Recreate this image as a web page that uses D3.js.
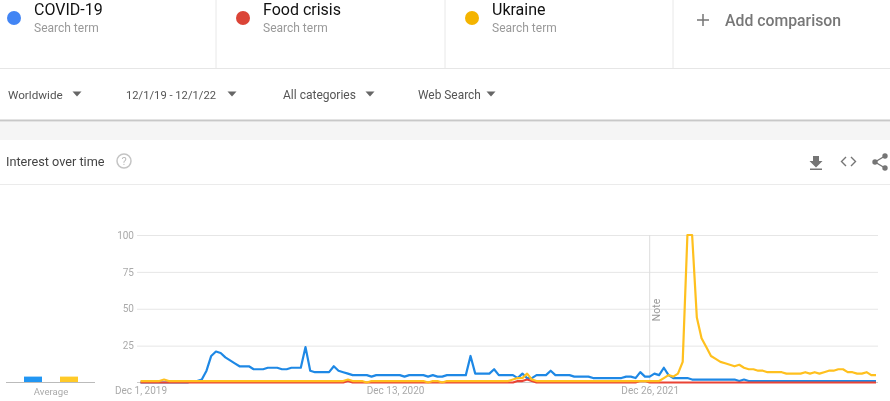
<!DOCTYPE html>
<html>
<head>
<meta charset="utf-8">
<script src="https://cdn.jsdelivr.net/npm/d3@7"></script>
<style>
  html, body { margin: 0; padding: 0; background: #fff; }
  svg { display: block; font-family: Roboto, sans-serif; filter: blur(0.35px); }
</style>
</head>
<body>
<div id="chart"></div>
<script>
const terms = ["COVID-19", "Food crisis", "Ukraine"];
const filters = ["Worldwide", "12/1/19 - 12/1/22", "All categories", "Web Search"];
const yTicks = [25, 50, 75, 100];
const xTickWeeks = [0, 54, 108];
const xTickLabels = ["Dec 1, 2019", "Dec 13, 2020", "Dec 26, 2021"];
const noteWeek = 108;
const averages = [4, 0, 4];

// one value a week
const covid = [
  0,0,0,0,0,0,0,0,0,0,
  0,1,1,2,8,18,21,20,17,15,
  13,11,11,11,9,9,9,10,10,10,
  9,9,10,10,10,24,8,7,7,7,
  7,11,8,7,6,5,5,5,5,4,
  5,5,5,5,5,5,4,5,5,5,
  5,4,5,4,4,5,5,5,5,5,
  18,6,6,6,6,9,5,5,5,5,
  3,6,3,3,5,5,5,8,5,5,
  5,5,4,4,4,4,3,3,3,3,
  3,3,3,4,4,3,7,4,4,6,
  5,10,5,3,3,3,3,2,2,2,
  2,2,2,2,2,2,2,1,2,1,
  1,1,1,1,1,1,1,1,1,1,
  1,1,1,1,1,1,1,1,1,1,
  1,1,1,1,1,1,1
];
const foodCrisis = [
  0,0,0,0,0,0,0,0,0,0,
  0,0,0,0,0,0,0,0,0,0,
  0,0,0,0,0,0,0,0,0,0,
  0,0,0,0,0,0,0,0,0,0,
  0,0,0,0,1,0,0,0,0,0,
  0,0,0,0,0,0,0,0,0,0,
  0,0,0,0,0,0,0,0,0,0,
  0,0,0,0,0,0,0,0,0,0,
  1,1,2,1,0,0,0,0,0,0,
  0,0,0,0,0,0,0,0,0,0,
  0,0,0,0,0,0,1,1,0,0,
  0,0,0,0,0,0,0,0,0,0,
  0,0,0,0,0,0,0,0,0,0,
  0,0,0,0,0,0,0,0,0,0,
  0,0,0,0,0,0,0,0,0,0,
  0,0,0,0,0,0,0
];
const ukraine = [
  1,1,1,1,1,2,1,1,1,1,
  1,1,1,1,1,1,1,1,1,1,
  1,1,1,1,1,1,1,1,1,1,
  1,1,1,1,1,1,1,1,1,1,
  1,1,1,1,2,1,1,1,0,1,
  1,1,1,1,1,1,1,1,1,1,
  1,0,1,1,0,1,1,1,1,1,
  1,1,1,1,1,1,1,1,1,2,
  3,3,6,2,1,1,1,1,1,1,
  1,1,1,1,1,1,1,1,1,1,
  1,1,1,1,1,1,1,1,1,1,
  1,3,5,4,6,14,100,100,44,30,
  24,18,16,14,13,12,11,12,10,9,
  9,8,8,7,7,7,7,6,6,6,
  6,7,6,7,6,7,8,8,9,9,
  7,7,6,6,7,5,5
];

const dotColors = ["#4285f4", "#db4437", "#f4b400"];
const lineColors = ["#1e88e5", "#ea4335", "#ffc01e"];
const barColors = ["#2196f3", "#e53935", "#ffca28"];

const width = 890, height = 401;
const svg = d3.select("#chart").append("svg").attr("width", width).attr("height", height);

// header cards
const cardX = [0, 229, 458];
const card = svg.selectAll(".card").data(terms).join("g")
  .attr("class", "card")
  .attr("transform", (d, i) => `translate(${cardX[i]},0)`);
card.append("circle").attr("cx", 14).attr("cy", 18).attr("r", 7)
  .attr("fill", (d, i) => dotColors[i]);
card.append("text").attr("x", 34).attr("y", 15).text(d => d)
  .attr("font-size", 16).attr("fill", "#111");
card.append("text").attr("x", 34).attr("y", 32).text("Search term")
  .attr("font-size", 12).attr("fill", "#999");

svg.selectAll(".divider").data([216, 445, 673]).join("line")
  .attr("x1", d => d).attr("x2", d => d).attr("y1", 0).attr("y2", 68)
  .attr("stroke", "#e8e8e8");
svg.append("line").attr("x1", 0).attr("x2", width).attr("y1", 68.5).attr("y2", 68.5)
  .attr("stroke", "#e6e6e6");

svg.append("path").attr("d", "M697 20h12M703 14v12").attr("stroke", "#757575")
  .attr("stroke-width", 1.5).attr("fill", "none");
svg.append("text").attr("x", 725).attr("y", 26).text("Add comparison")
  .attr("font-size", 15.8).attr("font-weight", 500).attr("fill", "#777");

// filter row
const filterX = [8, 126, 283, 418];
const filterSize = [11.7, 11.2, 12, 11.9];
const arrowX = [77, 232, 370, 491];
svg.selectAll(".filter").data(filters).join("text")
  .attr("x", (d, i) => filterX[i]).attr("y", 99).text(d => d)
  .attr("font-size", (d, i) => filterSize[i]).attr("fill", "#555");
svg.selectAll(".arrow").data(arrowX).join("path")
  .attr("d", d => `M${d - 4.5} 91.5h9l-4.5 5z`).attr("fill", "#666");

svg.append("rect").attr("x", 0).attr("y", 122).attr("width", width).attr("height", 18)
  .attr("fill", "#f5f5f5");
svg.append("line").attr("x1", 0).attr("x2", width).attr("y1", 120.5).attr("y2", 120.5)
  .attr("stroke", "#c8c8c8").attr("stroke-width", 2);

// chart title row
svg.append("text").attr("x", 6).attr("y", 166).text("Interest over time")
  .attr("font-size", 12.7).attr("fill", "#444");
svg.append("circle").attr("cx", 124).attr("cy", 161).attr("r", 7)
  .attr("fill", "none").attr("stroke", "#c4c4c4").attr("stroke-width", 1.5);
svg.append("text").attr("x", 124).attr("y", 165).attr("text-anchor", "middle").text("?")
  .attr("font-size", 11).attr("fill", "#bbb");
svg.append("line").attr("x1", 0).attr("x2", width).attr("y1", 184.5).attr("y2", 184.5)
  .attr("stroke", "#ebebeb");

svg.append("path").attr("d", "M813 156h6v5h3.5l-6.5 6.5-6.5-6.5h3.5zM810 168.500h12v1.500h-12z").attr("fill", "#757575");
svg.append("path").attr("d", "M846 157l-4.500 4.500 4.500 4.500M851 157l4.500 4.500-4.500 4.500")
  .attr("fill", "none").attr("stroke", "#757575").attr("stroke-width", 1.4);
svg.append("path").attr("d", "M885 156l-10 6 10 6").attr("fill", "none").attr("stroke", "#757575").attr("stroke-width", 1.4);
svg.selectAll(".share").data([[885, 156], [875, 162], [885, 168]]).join("circle")
  .attr("cx", d => d[0]).attr("cy", d => d[1]).attr("r", 2.7).attr("fill", "#757575");

// scales
const x = d3.scaleLinear().domain([0, covid.length - 1]).range([140.5, 876]);
const y = d3.scaleLinear().domain([0, 100]).range([382.5, 235]);

// grid and axes
const yAxis = svg.append("g").attr("transform", "translate(137,0)")
  .call(d3.axisRight(y).tickValues(yTicks).tickSize(741).tickFormat(d => d));
yAxis.select(".domain").remove();
yAxis.selectAll("line").attr("stroke", "#e6e6e6");
yAxis.selectAll("text").attr("x", -3).attr("text-anchor", "end")
  .attr("font-family", "Roboto, sans-serif").attr("font-size", 10).attr("fill", "#aaa");

svg.append("line").attr("x1", 137).attr("x2", 878).attr("y1", y(0)).attr("y2", y(0))
  .attr("stroke", "#ccc");

const xAxis = svg.append("g").attr("transform", `translate(0,${y(0)})`)
  .call(d3.axisBottom(x).tickValues(xTickWeeks).tickSize(0).tickPadding(4)
    .tickFormat((d, i) => xTickLabels[i]));
xAxis.select(".domain").remove();
xAxis.selectAll("text").attr("font-family", "Roboto, sans-serif")
  .attr("font-size", 10).attr("fill", "#aaa");

// note marker
svg.append("line").attr("x1", x(noteWeek)).attr("x2", x(noteWeek))
  .attr("y1", y(100)).attr("y2", y(0)).attr("stroke", "#ddd");
svg.append("text").text("Note")
  .attr("transform", `translate(${x(noteWeek) + 10},310) rotate(-90)`)
  .attr("text-anchor", "middle").attr("font-size", 10.5).attr("fill", "#999");

// lines
const line = d3.line().x((d, i) => x(i)).y(d => y(d));
svg.selectAll(".series").data([covid, foodCrisis, ukraine]).join("path")
  .attr("class", "series")
  .attr("d", line)
  .attr("fill", "none")
  .attr("stroke", (d, i) => lineColors[i])
  .attr("stroke-width", 2.2)
  .attr("stroke-linejoin", "round");

// average bars
const avgBarX = [24, 42, 60];
svg.selectAll(".avg").data(averages).join("rect")
  .attr("class", "avg")
  .attr("x", (d, i) => avgBarX[i]).attr("width", 18)
  .attr("y", d => y(d)).attr("height", d => y(0) - y(d))
  .attr("fill", (d, i) => barColors[i]);
svg.append("line").attr("x1", 6).attr("x2", 95).attr("y1", y(0)).attr("y2", y(0)).attr("stroke", "#bbb");
svg.append("text").attr("x", 51).attr("y", 395).attr("text-anchor", "middle").text("Average")
  .attr("font-size", 9.6).attr("fill", "#aaa");
</script>
</body>
</html>
